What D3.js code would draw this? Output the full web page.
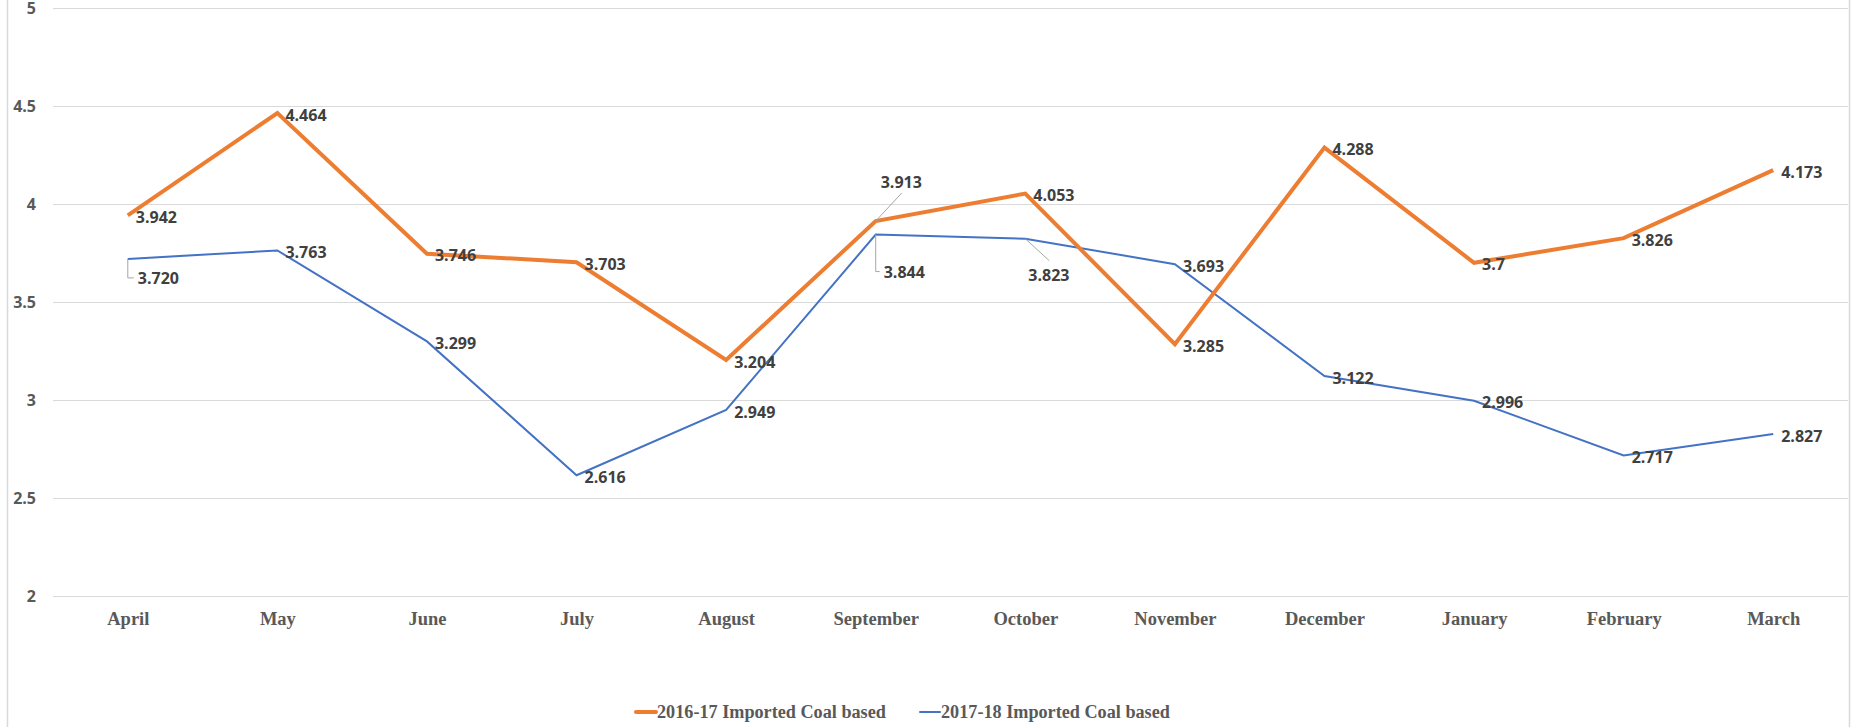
<!DOCTYPE html>
<html lang="en">
<head>
    <meta charset="utf-8">
    <title>Imported Coal based</title>
    <script src="https://cdn.jsdelivr.net/npm/d3@7/dist/d3.min.js"></script>
</head>
<style>
    body {
        margin: 0;
        padding: 0;
        background-color: #ffffff;
        overflow: hidden;
    }
    .y-axis text {
        font-family: "Open Sans", sans-serif;
        font-weight: 700;
        font-size: 16px;
        fill: #595959;
    }
    .x-axis text {
        font-family: "Liberation Serif", serif;
        font-weight: 700;
        font-size: 18.5px;
        fill: #595959;
    }
    .data-label {
        font-family: "Open Sans", sans-serif;
        font-weight: 700;
        font-size: 16px;
        fill: #404040;
    }
    .legend text {
        font-family: "Liberation Serif", serif;
        font-weight: 700;
        font-size: 18.2px;
        fill: #595959;
    }
</style>
<body>
    <svg width="1858" height="727" id="chart"></svg>
    <script>
        // months on the x axis
        var months = ["April", "May", "June", "July", "August", "September",
            "October", "November", "December", "January", "February", "March"];

        var seriesNames = ["2016-17 Imported Coal based", "2017-18 Imported Coal based"];

        var values2016 = [3.942, 4.464, 3.746, 3.703, 3.204, 3.913, 4.053, 3.285, 4.288, 3.7, 3.826, 4.173];
        var values2017 = [3.720, 3.763, 3.299, 2.616, 2.949, 3.844, 3.823, 3.693, 3.122, 2.996, 2.717, 2.827];

        var yTicks = [2, 2.5, 3, 3.5, 4, 4.5, 5];

        var svg = d3.select("#chart"),
            margin = { top: 8, right: 10, bottom: 131, left: 53 },
            width = +svg.attr("width") - margin.left - margin.right,
            height = +svg.attr("height") - margin.top - margin.bottom,
            g = svg.append("g").attr("transform", "translate(" + margin.left + "," + margin.top + ")");

        var x = d3.scalePoint()
            .domain(months)
            .range([0, width])
            .padding(0.5);

        var y = d3.scaleLinear()
            .domain([2, 5])
            .range([height, 0]);

        // chart frame (left / right edges)
        svg.append("line").attr("x1", 7.5).attr("x2", 7.5).attr("y1", 0).attr("y2", 727)
            .attr("stroke", "#d9d9d9").attr("stroke-width", 1.5);
        svg.append("line").attr("x1", 1849.5).attr("x2", 1849.5).attr("y1", 0).attr("y2", 727)
            .attr("stroke", "#d9d9d9").attr("stroke-width", 1.5);

        // gridlines
        g.append("g")
            .selectAll("line")
            .data(yTicks)
            .enter().append("line")
            .attr("x1", 0)
            .attr("x2", width)
            .attr("y1", function (d) { return Math.round(y(d)) + 0.5; })
            .attr("y2", function (d) { return Math.round(y(d)) + 0.5; })
            .attr("stroke", "#d9d9d9")
            .attr("stroke-width", 1);

        // y axis
        var yAxis = g.append("g")
            .attr("class", "y-axis")
            .call(d3.axisLeft(y).tickValues(yTicks).tickSize(0).tickPadding(17).tickFormat(function (d) { return d; }));
        yAxis.select(".domain").remove();
        yAxis.selectAll("text").attr("dy", "0.36em");

        // x axis
        var xAxis = g.append("g")
            .attr("class", "x-axis")
            .attr("transform", "translate(0," + height + ")")
            .call(d3.axisBottom(x).tickSize(0).tickPadding(16));
        xAxis.select(".domain").remove();

        var series = [
            { name: seriesNames[0], values: values2016, color: "#ED7D31", width: 4, fmt: function (v) { return String(v); } },
            { name: seriesNames[1], values: values2017, color: "#4472C4", width: 2, fmt: d3.format(".3f") }
        ];

        var line = d3.line()
            .x(function (d, i) { return x(months[i]); })
            .y(function (d) { return y(d); });

        // draw 2017-18 first so the orange line sits on top
        series.slice().reverse().forEach(function (s) {
            g.append("path")
                .datum(s.values)
                .attr("fill", "none")
                .attr("stroke", s.color)
                .attr("stroke-width", s.width)
                .attr("stroke-linejoin", "miter")
                .attr("d", line);
        });

        // labels that were moved off the point (with leader lines)
        var moved = {
            "1-0": { dx: 10, dy: 20, leader: "elbow" },
            "0-5": { dx: 5, dy: -39, leader: "diag", lx: 26, ly: -28 },
            "1-5": { dx: 8, dy: 38, leader: "elbow" },
            "1-6": { dx: 3, dy: 37, leader: "diag", lx: 24, ly: 22 }
        };

        series.forEach(function (s, si) {
            s.values.forEach(function (v, i) {
                var px = x(months[i]), py = y(v);
                var m = moved[si + "-" + i];
                var tx = px + 8, ty = py + 2;
                if (m) {
                    tx = px + m.dx;
                    ty = py + m.dy;
                    var path;
                    if (m.leader === "elbow") {
                        path = "M" + px + "," + py + "V" + (ty - 1) + "H" + (tx - 4);
                    } else {
                        path = "M" + px + "," + py + "L" + (px + m.lx) + "," + (py + m.ly);
                    }
                    g.append("path")
                        .attr("d", path)
                        .attr("fill", "none")
                        .attr("stroke", "#a6a6a6")
                        .attr("stroke-width", 1);
                }
                g.append("text")
                    .attr("class", "data-label")
                    .attr("x", tx)
                    .attr("y", ty)
                    .attr("dy", "0.35em")
                    .text(s.fmt(v));
            });
        });

        // legend
        var legendX = [636, 920];
        var legend = svg.append("g")
            .attr("class", "legend")
            .selectAll("g")
            .data(series)
            .enter().append("g")
            .attr("transform", function (d, i) { return "translate(" + legendX[i] + ",712)"; });

        legend.append("line")
            .attr("x1", 0)
            .attr("x2", 20)
            .attr("stroke", function (d) { return d.color; })
            .attr("stroke-width", function (d) { return d.width; })
            .attr("stroke-linecap", "round");

        legend.append("text")
            .attr("x", 21)
            .attr("y", 0)
            .attr("dy", "0.33em")
            .text(function (d) { return d.name; });
    </script>
</body>
</html>
